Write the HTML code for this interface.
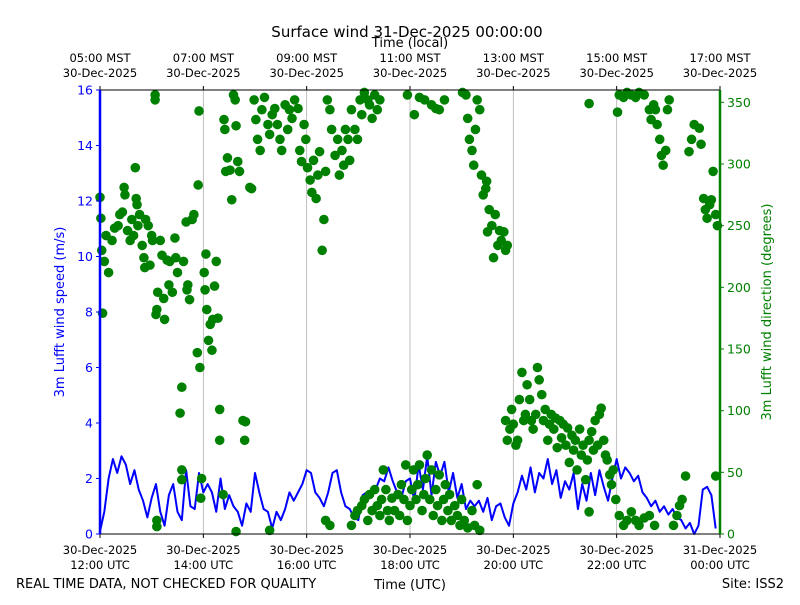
<!DOCTYPE html>
<html><head><meta charset="utf-8"><style>
body{margin:0;background:#fff;font-family:"Liberation Sans","DejaVu Sans",sans-serif}
svg text{font-family:"DejaVu Sans","Liberation Sans",sans-serif}
</style></head><body>
<svg id="c" width="800" height="600" xmlns="http://www.w3.org/2000/svg"></svg>
<script>
const xTickUTC=["30-Dec-2025|12:00 UTC","30-Dec-2025|14:00 UTC","30-Dec-2025|16:00 UTC","30-Dec-2025|18:00 UTC","30-Dec-2025|20:00 UTC","30-Dec-2025|22:00 UTC","31-Dec-2025|00:00 UTC"];
const xTickMin=[0,120,240,360,480,600,720];
const topTickLabels=["05:00 MST|30-Dec-2025","07:00 MST|30-Dec-2025","09:00 MST|30-Dec-2025","11:00 MST|30-Dec-2025","13:00 MST|30-Dec-2025","15:00 MST|30-Dec-2025","17:00 MST|30-Dec-2025"];
const speedTicks=[0,2,4,6,8,10,12,14,16];
const dirTicks=[0,50,100,150,200,250,300,350];
const speedStep=5;
const speedVals=[0.1,0.8,2.0,2.7,2.2,2.8,2.5,1.8,2.3,1.6,1.2,0.6,1.3,1.8,0.8,0.3,1.4,1.8,0.8,0.5,2.3,1.0,0.9,2.2,1.5,1.8,1.5,0.8,2.0,0.9,1.4,1.0,0.8,0.3,1.1,0.8,2.2,1.5,0.9,0.8,0.2,0.8,0.5,0.9,1.5,1.2,1.5,1.8,2.3,2.2,1.5,1.3,1.0,1.5,2.2,2.3,1.5,1.0,0.9,0.6,0.5,1.4,1.5,1.4,1.6,2.0,1.9,2.4,1.9,1.5,1.3,1.9,
2.0,1.2,2.5,1.6,2.8,1.4,2.6,2.1,2.6,1.5,2.2,1.3,1.8,0.9,1.2,1.0,1.2,0.8,1.3,0.5,1.0,1.1,0.6,0.3,1.1,1.5,2.1,1.6,2.4,1.5,2.2,2.0,2.7,1.8,2.3,1.3,1.9,1.6,2.2,0.9,1.8,1.2,2.2,1.4,2.3,1.7,1.2,2.0,2.7,2.0,2.4,2.2,1.9,2.1,1.5,1.3,1.0,1.2,0.8,1.0,0.7,0.9,0.6,0.5,0.2,0.4,0.0,0.3,1.6,1.7,1.4,0.2];
const dirTimes=[0,1,2,3,5,7,10,14,17,21,23,26,28,29,32,35,37,39,42,43,41,44,46,49,51,52,53,56,58,60,61,64,64,65,66,67,70,72,74,75,78,80,81,84,87,88,90,93,95,97,100,101,102,104,107,109,114,115,113,116,118,117,121,122,123,124,126,128,130,131,133,135,137,139,139,143,144,145,146,148,151,153,155,157,158,160,162,166,168,169,174,176,179,181,183,186,188,191,195,197,200,203,206,209,211,215,218,220,223,226,230,232,234,237,239,241,244,246,248,251,253,255,258,260,262,264,267,269,273,276,278,281,283,285,288,290,292,296,299,302,304,307,311,313,316,319,322,325,357,365,371,377,385,390,394,400,421,425,427,429,432,434,436,438,441,443,445,448,449,450,452,455,457,459,462,464,466,469,471,473,
66,66,95,95,197,158,262,267,292,296,299,304,307,311,313,316,319,322,325,327,329,332,334,336,339,342,346,348,350,353,355,357,360,362,364,367,369,371,374,376,378,380,383,385,387,390,392,394,397,399,401,404,406,408,412,415,418,420,423,427,432,435,438,441,
471,473,476,478,480,483,485,487,490,492,494,496,499,501,503,506,508,510,513,515,517,520,522,524,527,529,531,534,536,538,541,543,545,548,550,552,554,557,559,561,564,566,568,571,573,575,578,580,582,585,587,589,592,594,596,599,568,
568,601,603,608,612,617,622,626,632,638,640,643,645,647,650,652,654,657,659,661,603,608,612,617,622,626,632,638,644,666,670,673,676,680,684,687,690,696,698,701,703,705,708,710,712,715,717,715];
const dirVals=[273,256,230,179,221,242,212,238,248,250,259,261,281,275,246,238,255,242,272,267,297,250,259,234,224,216,255,250,218,242,238,356,352,178,182,196,238,226,191,174,222,202,221,196,240,224,212,98,119,221,253,198,202,190,255,259,283,343,147,135,45,29,212,198,227,182,157,170,149,174,201,221,175,101,76,32,336,328,294,305,295,271,356,352,331,302,294,92,76,91,281,280,352,336,320,311,344,354,332,324,340,345,332,320,311,348,328,344,337,352,345,311,302,332,320,297,287,277,303,272,291,310,230,255,294,352,344,328,307,320,291,311,299,328,320,303,344,328,320,352,340,358,352,348,337,356,344,352,356,340,354,352,348,345,344,352,358,356,337,320,311,299,328,352,344,291,275,280,286,245,263,250,224,259,234,246,238,245,230,234,
6,11,52,44,3,2,11,7,7,15,19,23,28,11,32,19,36,23,15,28,52,36,19,11,29,19,32,15,40,28,56,11,23,36,52,28,40,56,19,32,45,64,28,52,15,36,23,48,11,28,40,19,32,11,23,15,7,28,11,5,19,7,40,3,
92,76,85,101,89,72,76,109,131,92,97,121,109,92,85,97,135,125,113,92,101,76,89,97,85,94,70,92,78,89,72,86,58,80,68,76,52,85,64,72,44,60,76,83,68,92,72,97,102,76,64,60,48,40,52,28,18,
349,342,356,354,358,356,354,358,356,344,336,348,344,332,320,307,299,311,344,352,15,7,11,18,11,7,13,15,7,7,15,23,28,47,310,320,332,329,316,272,263,256,267,271,294,259,250,47];

const NS="http://www.w3.org/2000/svg",svg=document.getElementById('c');
const L=100,R=720,T=90,B=534;
const xs=m=>L+(R-L)*m/720, ys=v=>B-(B-T)*v/16, yd=d=>B-(B-T)*d/360;
function mk(tag,at,parent){const e=document.createElementNS(NS,tag);for(const k in at)e.setAttribute(k,at[k]);(parent||svg).appendChild(e);return e;}
function tx(x,y,s,at){const e=mk('text',Object.assign({x:x,y:y,'font-size':12.5,'text-anchor':'middle'},at||{}));e.textContent=s;return e;}
mk('rect',{x:0,y:0,width:800,height:600,fill:'#fff'});
xTickMin.forEach((m,i)=>{if(i>0&&i<6){const g=mk('line',{x1:xs(m),x2:xs(m),y1:T,y2:B,stroke:'#b0b0b0','stroke-width':0.8});

}});
const sp=speedVals.map((v,i)=>xs(i*speedStep)+','+ys(v)).join(' ');
const pl=mk('polyline',{points:sp,fill:'none',stroke:'#0000ff','stroke-width':2,'stroke-linejoin':'round'});


const gd=mk('g',{fill:'#008000'});


dirVals.forEach((d,i)=>{const c=mk('circle',{cx:xs(dirTimes[i]),cy:yd(d),r:4.8},gd);

});
mk('line',{x1:L,x2:R,y1:T,y2:T,stroke:'#000','stroke-width':1});
mk('line',{x1:L,x2:R,y1:B,y2:B,stroke:'#000','stroke-width':1});
const la=mk('line',{x1:L,x2:L,y1:T,y2:B,stroke:'#0000ff','stroke-width':2.5});


const ra=mk('line',{x1:R,x2:R,y1:T,y2:B,stroke:'#008000','stroke-width':2.5});


xTickMin.forEach((m,i)=>{const x=xs(m);mk('line',{x1:x,x2:x,y1:B,y2:B+4,stroke:'#000'});mk('line',{x1:x,x2:x,y1:T,y2:T-4,stroke:'#000'});
const p=xTickUTC[i].split('|');const a=tx(x,554,p[0],{'font-size':11.5});tx(x,569,p[1],{'font-size':11.5});
const q=topTickLabels[i].split('|');const b=tx(x,62,q[0],{'font-size':11.5});tx(x,77,q[1],{'font-size':11.5});});
speedTicks.forEach(v=>{const y=ys(v);mk('line',{x1:L-4,x2:L,y1:y,y2:y,stroke:'#0000ff'});const t=tx(L-7,y+4.5,String(v),{'text-anchor':'end',fill:'#0000ff'});

});
dirTicks.forEach(v=>{const y=yd(v);mk('line',{x1:R,x2:R+4,y1:y,y2:y,stroke:'#008000'});const t=tx(R+7,y+4.5,String(v),{'text-anchor':'start',fill:'#008000'});

});
let e;
e=tx(407,37,'Surface wind 31-Dec-2025 00:00:00',{'font-size':15});
e=tx(410,47,'Time (local)',{'font-size':13});
e=tx(410,589,'Time (UTC)',{'font-size':13});
e=tx(16,588,'REAL TIME DATA, NOT CHECKED FOR QUALITY',{'font-size':13,'text-anchor':'start'});
e=tx(784,588,'Site: ISS2',{'font-size':13,'text-anchor':'end'});
e=tx(0,0,'3m Lufft wind speed (m/s)',{'font-size':13,fill:'#0000ff',transform:'translate(64,312) rotate(-90)'});
e=tx(0,0,'3m Lufft wind direction (degrees)',{'font-size':13,fill:'#008000',transform:'translate(771,312) rotate(-90)'});
</script>
</body></html>
